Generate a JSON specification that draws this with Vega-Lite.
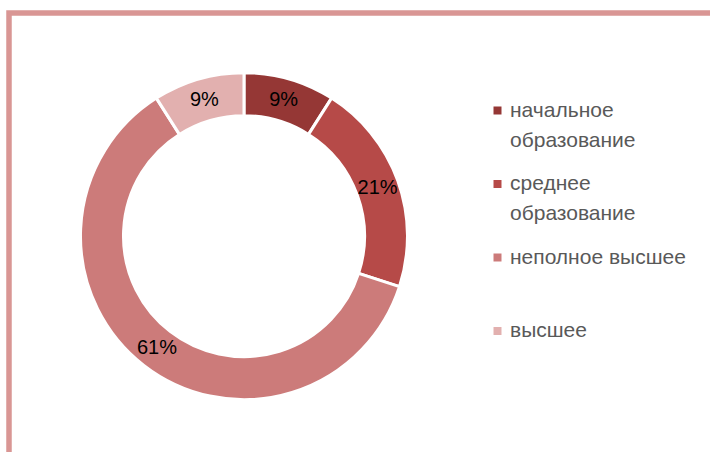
{
  "$schema": "https://vega.github.io/schema/vega-lite/v6.json",
  "width": 711,
  "height": 449,
  "autosize": {"type": "none"},
  "padding": {"left": 9, "top": 13, "right": -10, "bottom": -10},
  "background": "white",
  "config": {
    "view": {"stroke": "#D99694", "strokeWidth": 5.5},
    "style": {"guide-label": {"lineHeight": 30}},
    "legend": {
      "title": null,
      "orient": "none",
      "legendX": 478,
      "legendY": 87,
      "padding": 0,
      "symbolType": "square",
      "symbolSize": 64,
      "symbolStrokeWidth": 0,
      "labelFont": "Liberation Sans",
      "labelFontSize": 21,
      "labelColor": "#595959",
      "labelOffset": 2,
      "labelLimit": 300,
      "rowPadding": 21.5,
      "labelBaseline": "middle"
    }
  },
  "data": {
    "values": [
      {"idx": 1, "cat": "начальное образование", "value": 9, "label": "9%"},
      {"idx": 2, "cat": "среднее образование", "value": 21, "label": "21%"},
      {"idx": 3, "cat": "неполное высшее", "value": 61, "label": "61%"},
      {"idx": 4, "cat": "высшее", "value": 9, "label": "9%"}
    ]
  },
  "encoding": {
    "x": {"datum": 0.3305, "type": "quantitative", "scale": {"domain": [0, 1], "nice": false, "zero": false}, "axis": null},
    "y": {"datum": 0.503, "type": "quantitative", "scale": {"domain": [0, 1], "nice": false, "zero": false}, "axis": null},
    "theta": {"field": "value", "type": "quantitative", "stack": true},
    "order": {"field": "idx", "type": "quantitative"}
  },
  "layer": [
    {
      "mark": {"type": "arc", "innerRadius": 120.5, "outerRadius": 163.5, "stroke": "white", "strokeWidth": 3},
      "encoding": {
        "color": {
          "field": "cat",
          "type": "nominal",
          "scale": {
            "domain": ["начальное образование", "среднее образование", "неполное высшее", "высшее"],
            "range": ["#953735", "#B64A48", "#CC7B7A", "#E2B0AF"]
          },
          "legend": {
            "labelExpr": "datum.label == 'начальное образование' ? ['начальное', 'образование'] : datum.label == 'среднее образование' ? ['среднее', 'образование'] : [datum.label, '']",
            "encoding": {"labels": {"lineHeight": {"value": 30}}}
          }
        }
      }
    },
    {
      "mark": {"type": "text", "radius": 142, "font": "Liberation Sans", "fontSize": 20, "fill": "black", "baseline": "middle", "align": "center"},
      "encoding": {"text": {"field": "label", "type": "nominal"}}
    }
  ]
}
